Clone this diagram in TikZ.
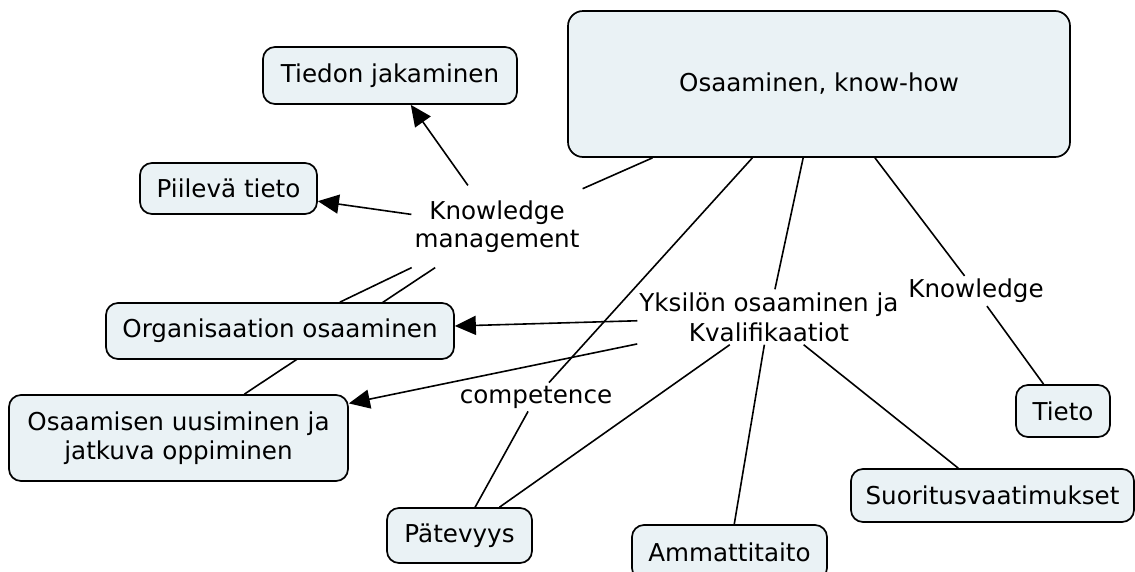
\documentclass[tikz,border=0pt]{standalone}
\usepackage{fontspec}
\setmainfont{DejaVu Sans}
\usetikzlibrary{arrows.meta}
\pgfdeclarelayer{bg}
\pgfsetlayers{bg,main}
\definecolor{boxfill}{RGB}{234,242,245}
\begin{document}
\begin{tikzpicture}[x=1pt,y=-1pt,
  txt/.style={font=\fontsize{24.6}{29}\selectfont, align=center},
  concept/.style={txt, draw=black, line width=1.7pt, fill=boxfill, rounded corners=12pt, inner sep=0pt},
  phrase/.style={txt, inner xsep=2pt, inner ysep=3pt},
  link/.style={line width=1.6pt, black},
  arr/.style={link, -{Triangle[length=21pt,width=19pt]}}]
\useasboundingbox (0,0) rectangle (1135,571);
\clip (0,0) rectangle (1135,571);
% concepts
\node[concept, minimum width=502pt, minimum height=146pt, rounded corners=15pt] (main) at (819,84) {Osaaminen, know-how};
\node[concept, minimum width=254pt, minimum height=57pt] (tiedon) at (390,75.5) {Tiedon jakaminen};
\node[concept, minimum width=177pt, minimum height=51pt] (piil) at (228.5,188.5) {Piilevä tieto};
\node[concept, minimum width=348pt, minimum height=56pt] (org) at (280,331) {Organisaation osaaminen};
\node[concept, minimum width=339pt, minimum height=86pt] (osa) at (178.5,438) {Osaamisen uusiminen ja\\jatkuva oppiminen};
\node[concept, minimum width=145pt, minimum height=55pt] (pat) at (459.5,535.5) {Pätevyys};
\node[concept, minimum width=195pt, minimum height=55pt] (amm) at (729.5,552.5) {Ammattitaito};
\node[concept, minimum width=283pt, minimum height=53pt] (suor) at (992.5,495.5) {Suoritusvaatimukset};
\node[concept, minimum width=94pt, minimum height=52pt] (tieto) at (1063,411) {Tieto};
% linking phrases
\node[phrase, inner xsep=3pt, inner ysep=15pt, font=\fontsize{24.6}{28}\selectfont] (km) at (497,226.5) {Knowledge\\management};
\node[phrase, font=\fontsize{24.6}{30}\selectfont] (yks) at (769,317) {Yksilön osaaminen ja\\Kvalifikaatiot};
\node[phrase] (comp) at (536,397) {competence};
\node[phrase] (know) at (976,291) {Knowledge};
% connectors
\begin{pgfonlayer}{bg}
\draw[link] (main) -- (km);
\draw[arr] (km) -- (tiedon);
\draw[arr] (km) -- (piil);
\draw[link] (km) -- (org);
\draw[link] (km) -- (osa);
\draw[link] (main) -- (yks);
\draw[arr] (yks) -- (org);
\draw[arr] (yks) -- (osa);
\draw[link] (yks) -- (pat);
\draw[link] (yks) -- (amm);
\draw[link] (yks) -- (suor);
\draw[link] (main) -- (comp);
\draw[link] (comp) -- (pat);
\draw[link] (main) -- (know);
\draw[link] (know) -- (tieto);
\end{pgfonlayer}
\end{tikzpicture}
\end{document}
